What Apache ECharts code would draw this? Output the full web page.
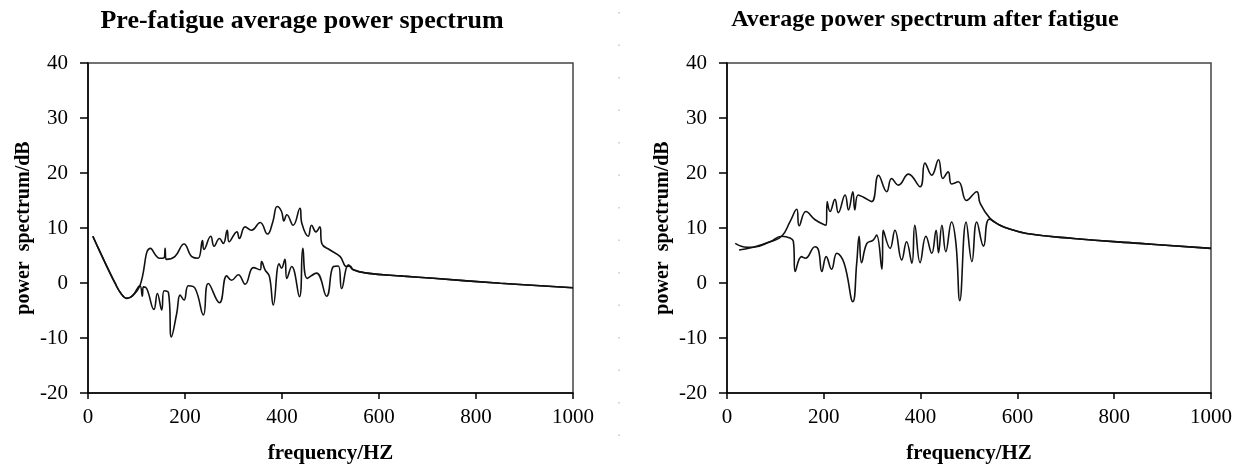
<!DOCTYPE html>
<html>
<head>
<meta charset="utf-8">
<script src="https://cdn.jsdelivr.net/npm/echarts@6/dist/echarts.min.js"></script>
<style>html,body{margin:0;padding:0;background:#fff}#c{width:1243px;height:465px}</style>
</head>
<body>
<div id="c"></div>
<script>
// Titles and axis texts
const titles = ['Pre-fatigue average power spectrum', 'Average power spectrum after fatigue'];
const xName = 'frequency/HZ';
const yName = 'power  spectrum/dB';
const xTicks = [0, 200, 400, 600, 800, 1000];
const yTicks = [-20, -10, 0, 10, 20, 30, 40];

// Pre-fatigue: [frequency, dB]
const preHead = [[10,8.5],[25,5.6],[40,2.8],[55,0.1],[68,-1.9],[80,-2.8],[92,-2.3],[107,-0.5]];
const preUpper = [[129,6.3],[148,4.5],[157,4.6],[159,6.3],[161,4.3],[179,4.8],[198,7.1],[214,4.8],[227,4.5],[236,7.7],[239,6.1],[253,8.5],[260,6.7],[271,8.1],[279,7.2],[287,9.6],[291,7.5],[307,9.3],[312,8.1],[324,10.2],[337,9.6],[355,11.0],[370,8.9],[381,11.1],[390,13.9],[399,13.0],[404,11.3],[410,12.4],[423,10.5],[437,13.6],[441,10.8],[454,8.5],[461,10.5],[470,9.3],[478,10.2],[482,7.2],[499,6.0],[520,4.8],[533,3.0],[540,3.1]];
const preLower = [[112,-2.4],[114,-0.7],[121,-1.0],[136,-4.8],[143,-1.9],[152,-4.9],[157,-1.4],[166,-1.8],[172,-9.8],[183,-5.5],[190,-2.2],[198,-3.1],[207,-0.5],[221,-1.0],[238,-5.8],[248,-0.1],[271,-3.6],[286,1.3],[296,0.5],[310,1.5],[324,-0.2],[341,2.8],[355,2.4],[358,3.9],[365,2.4],[374,1.2],[382,-4.0],[394,3.5],[399,2.7],[406,4.3],[410,0.85],[420,3.0],[436,-2.5],[443,6.3],[452,0.85],[471,1.8],[492,-2.4],[506,3.0],[516,3.1],[523,-1.0],[537,3.3]];
const preTail = [[547,2.4],[575,1.8],[650,1.25],[712,0.85],[850,-0.05],[1000,-0.85]];

// After fatigue: [frequency, dB]
const postHeadUpper = [[17,7.2],[41,6.5],[54,6.5],[89,7.5],[113,8.5]];
const postHeadLower = [[25,6.0],[54,6.5],[89,7.5],[113,8.5]];
const postUpper = [[130,11.1],[144,13.4],[149,10.4],[163,13.0],[182,11.5],[205,10.5],[207,14.8],[213,13.0],[223,15.2],[230,12.8],[244,16.0],[251,13.3],[260,16.6],[264,13.3],[271,16.0],[282,15.6],[299,14.8],[313,19.6],[330,16.6],[340,19.0],[354,17.8],[375,19.8],[399,17.5],[409,21.8],[423,19.6],[437,22.4],[446,19.0],[457,20.2],[464,18.0],[478,18.4],[495,15.0],[516,16.6],[523,14.5],[543,11.8]];
const postLower = [[130,8.2],[137,7.6],[141,2.1],[154,4.8],[162,4.5],[182,6.6],[189,6.0],[196,2.1],[205,4.8],[216,2.5],[227,5.4],[242,3.6],[260,-3.4],[268,3.6],[273,8.5],[278,3.7],[289,7.2],[302,7.8],[309,8.7],[320,2.5],[323,9.6],[337,6.3],[347,9.6],[361,4.2],[371,7.5],[382,3.6],[388,10.5],[399,3.7],[411,8.5],[423,5.4],[432,9.6],[437,5.5],[444,10.5],[452,5.7],[464,11.1],[473,7.2],[481,-3.2],[494,11.1],[506,3.9],[516,11.1],[530,6.7],[542,11.6]];
const postTail = [[564,10.5],[578,10.0],[619,9.0],[716,8.1],[853,7.2],[1000,6.3]];

const FONT = '"Liberation Serif", "Times New Roman", serif';
const chart = echarts.init(document.getElementById('c'), null, {renderer: 'canvas'});

function xAxisCfg(gi) {
  return {
    type: 'value', gridIndex: gi, min: xTicks[0], max: xTicks[xTicks.length-1], interval: 200,
    name: xName, nameLocation: 'middle', nameGap: 50,
    nameTextStyle: {fontFamily: FONT, fontWeight: 'bold', fontSize: 21, color: '#000'},
    axisLine: {show: true, onZero: false, lineStyle: {color: '#000', width: 1.5}},
    axisTick: {show: true, inside: false, length: 6, lineStyle: {color: '#000', width: 1.5}},
    axisLabel: {fontFamily: FONT, fontSize: 21, color: '#000', margin: 14, formatter: v => String(v)},
    splitLine: {show: false}
  };
}
function yAxisCfg(gi) {
  return {
    type: 'value', gridIndex: gi, min: yTicks[0], max: yTicks[yTicks.length-1], interval: 10,
    name: yName, nameLocation: 'middle', nameGap: 54,
    nameTextStyle: {fontFamily: FONT, fontWeight: 'bold', fontSize: 20, color: '#000'},
    axisLine: {show: true, onZero: false, lineStyle: {color: '#000', width: 1.5}},
    axisTick: {show: true, inside: false, length: 8, lineStyle: {color: '#000', width: 1.5}},
    axisLabel: {fontFamily: FONT, fontSize: 21, color: '#000', margin: 20, formatter: v => String(v)},
    splitLine: {show: false}
  };
}
function lineSeries(xi, data) {
  return {
    type: 'line', xAxisIndex: xi, yAxisIndex: xi, data: data, showSymbol: false, symbol: 'none',
    smooth: 0.45,
    lineStyle: {color: '#111', width: 1.6}, silent: true, animation: false
  };
}

chart.setOption({
  animation: false,
  backgroundColor: '#fff',
  title: [
    {text: titles[0], left: 297, top: 3, textAlign: 'center', textStyle: {fontFamily: FONT, fontWeight: 'bold', fontSize: 26, color: '#000'}},
    {text: titles[1], left: 920, top: 3, textAlign: 'center', textStyle: {fontFamily: FONT, fontWeight: 'bold', fontSize: 24, color: '#000'}}
  ],
  grid: [
    {left: 88, right: 670, top: 63, bottom: 72, containLabel: false, outerBoundsMode: 'none', show: true, borderColor: '#444', borderWidth: 1.5, backgroundColor: 'transparent'},
    {left: 727, right: 32, top: 63, bottom: 72, containLabel: false, outerBoundsMode: 'none', show: true, borderColor: '#444', borderWidth: 1.5, backgroundColor: 'transparent'}
  ],
  xAxis: [xAxisCfg(0), xAxisCfg(1)],
  yAxis: [yAxisCfg(0), yAxisCfg(1)],
  series: [
    lineSeries(0, preHead.concat(preUpper, preTail)),
    lineSeries(0, preHead.concat(preLower, preTail)),
    lineSeries(1, postHeadUpper.concat(postUpper, postTail)),
    lineSeries(1, postHeadLower.concat(postLower, postTail))
  ],
  graphic: [
    {type: 'line', shape: {x1: 619, y1: 12, x2: 619, y2: 465}, style: {stroke: '#c8c8c8', lineWidth: 1.5, lineDash: [1.5, 31]}, silent: true}
  ]
});
</script>
</body>
</html>
